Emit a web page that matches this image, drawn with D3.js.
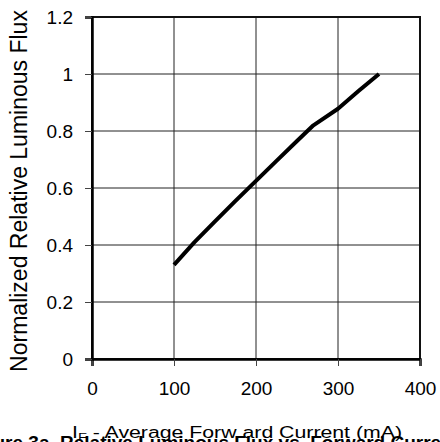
<!DOCTYPE html>
<html>
<head>
<meta charset="utf-8">
<script src="https://cdn.jsdelivr.net/npm/d3@7"></script>
<style>
  body { margin: 0; background: #fff; overflow: hidden; }
  text { font-family: "Liberation Sans", Arial, sans-serif; fill: #000; }
</style>
</head>
<body>
<div id="chart"></div>
<script>
// data
const currentMA = [100, 125, 150, 175, 200, 225, 250, 270, 300, 325, 350];
const relFlux = [0.33, 0.41, 0.483, 0.555, 0.625, 0.695, 0.765, 0.82, 0.878, 0.94, 1.0];
const xTicks = [0, 100, 200, 300, 400];
const yTicks = [0, 0.2, 0.4, 0.6, 0.8, 1, 1.2];

const width = 440, height = 442;
const margin = { top: 17, right: 20, bottom: 83, left: 92 };
const plotW = width - margin.left - margin.right;
const plotH = height - margin.top - margin.bottom;

const svg = d3.select("#chart").append("svg")
  .attr("width", width)
  .attr("height", height);

const x = d3.scaleLinear().domain([0, 400]).range([margin.left, margin.left + plotW]);
const y = d3.scaleLinear().domain([0, 1.2]).range([margin.top + plotH, margin.top]);

// grid
svg.append("g")
  .selectAll("line")
  .data(xTicks.slice(1, -1))
  .join("line")
  .attr("x1", d => x(d)).attr("x2", d => x(d))
  .attr("y1", y(0)).attr("y2", y(1.2))
  .attr("stroke", "#222").attr("stroke-width", 1);

svg.append("g")
  .selectAll("line")
  .data(yTicks.slice(1, -1))
  .join("line")
  .attr("x1", x(0)).attr("x2", x(400))
  .attr("y1", d => y(d)).attr("y2", d => y(d))
  .attr("stroke", "#222").attr("stroke-width", 1);

// frame
svg.append("rect")
  .attr("x", x(0)).attr("y", y(1.2))
  .attr("width", x(400) - x(0)).attr("height", y(0) - y(1.2))
  .attr("fill", "none").attr("stroke", "#111").attr("stroke-width", 2);

// axes
const xAxis = svg.append("g")
  .attr("transform", `translate(0,${y(0)})`)
  .call(d3.axisBottom(x).tickValues(xTicks).tickSize(7).tickPadding(16).tickFormat(d3.format("d")));
const yAxis = svg.append("g")
  .attr("transform", `translate(${x(0)},0)`)
  .call(d3.axisLeft(y).tickValues(yTicks).tickSize(7).tickPadding(12).tickFormat(d => String(d)));

[xAxis, yAxis].forEach(g => {
  g.select(".domain").attr("stroke", "#000").attr("stroke-width", 2.5);
  g.selectAll(".tick line").attr("stroke", "#444");
  g.selectAll(".tick text").attr("font-size", 19).attr("fill", "#000")
    .style("font-family", "'Liberation Sans', Arial, sans-serif");
});
yAxis.selectAll(".tick text").attr("dy", "0.36em");

// curve
svg.append("path")
  .datum(currentMA.map((c, i) => [c, relFlux[i]]))
  .attr("fill", "none")
  .attr("stroke", "#000")
  .attr("stroke-width", 4)
  .attr("stroke-linejoin", "round")
  .attr("d", d3.line().x(d => x(d[0])).y(d => y(d[1])));

// y title
svg.append("text")
  .attr("transform", `translate(27,191) rotate(-90)`)
  .attr("text-anchor", "middle")
  .attr("font-size", 23)
  .text("Normalized Relative Luminous Flux");

// caption, cut off by the bottom edge
svg.append("text")
  .attr("x", -35).attr("y", 449)
  .attr("font-size", 19).attr("font-weight", "bold")
  .text("Figure 3a. Relative Luminous Flux vs. Forward Current");

// x title (stretched like the original)
const xt = svg.append("text")
  .attr("x", 72).attr("y", 438)
  .attr("font-size", 16)
  .attr("textLength", 330)
  .attr("lengthAdjust", "spacingAndGlyphs");
xt.append("tspan").text("I");
xt.append("tspan").attr("font-size", 11).attr("dy", 3).text("F");
xt.append("tspan").attr("dy", -3).text(" - Average Forw ard Current (mA)");
</script>
</body>
</html>
